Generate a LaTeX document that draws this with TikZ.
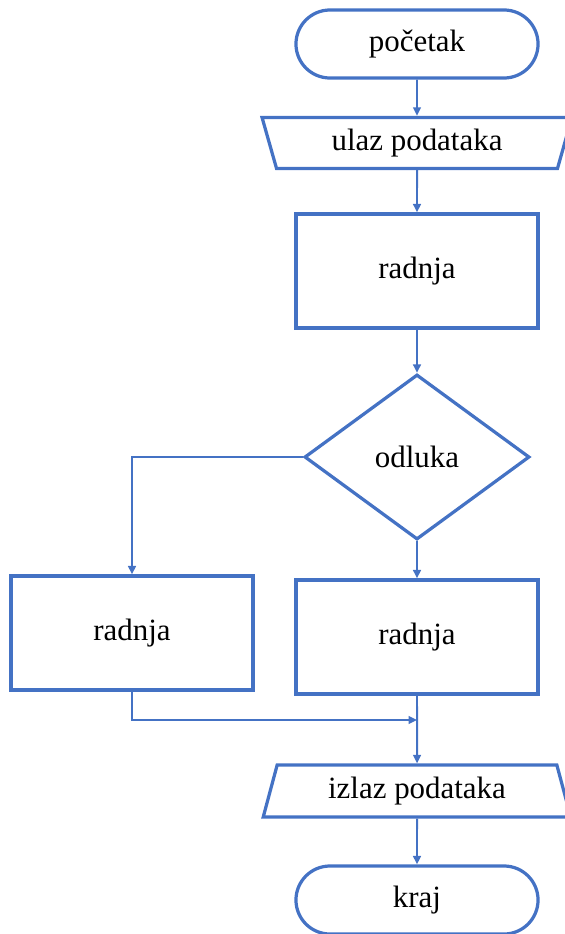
\documentclass[tikz,border=0pt]{standalone}
\usepackage{fontspec}
\setmainfont{Liberation Serif}
\usepackage{tikz}
\usetikzlibrary{arrows.meta,shapes.geometric}
\definecolor{ofblue}{HTML}{4472C4}

\begin{document}
\begin{tikzpicture}[x=0.025cm,y=-0.025cm,
    terminal/.style={rectangle,rounded corners=0.85cm,minimum width=6.05cm,minimum height=1.7cm},
    ulazni/.style={trapezium,trapezium stretches=true,trapezium left angle=104,trapezium right angle=104,minimum width=7.75cm,minimum height=1.28cm},
    izlazni/.style={trapezium,trapezium stretches=true,trapezium left angle=76,trapezium right angle=76,minimum width=7.7cm,minimum height=1.3cm},
    radnja/.style={rectangle,minimum width=6.05cm,minimum height=2.85cm},
    odluka/.style={diamond,inner sep=0pt,minimum width=5.625cm,minimum height=4.125cm}]
    \useasboundingbox (0,0) rectangle (565,934);
    \begin{scope}[every node/.style={draw=ofblue,line width=2.3pt,font=\fontsize{22}{26}\selectfont}]
      \node[terminal] (poc) at (417,44)  {početak};
      \node[ulazni]   (ulaz) at (417,143) {ulaz podataka};
      \node[radnja]   (r1) at (417,271)  {radnja};
      \node[odluka]   (odl) at (417,457) {odluka};
      \node[radnja]   (r2) at (132,633)  {radnja};
      \node[radnja]   (r3) at (417,637)  {radnja};
      \node[izlazni]  (izl) at (417,791) {izlaz podataka};
      \node[terminal] (kr) at (417,900)  {kraj};
    \end{scope}
    \coordinate (sp) at (417,720);
    \begin{scope}[>={Triangle[length=6pt,width=5.5pt]},draw=ofblue,line width=1.4pt,
        every edge/.style={draw=ofblue,line width=1.4pt}]
      \path[->] (poc) edge (ulaz)
                (ulaz) edge (r1)
                (r1) edge (odl)
                (odl) edge (r3)
                (r3) edge (izl)
                (izl) edge (kr);
      \draw[->] (odl.west) -| (r2.north);
      \draw[->] (r2.south) |- (sp);
    \end{scope}
  \end{tikzpicture}
\end{document}
